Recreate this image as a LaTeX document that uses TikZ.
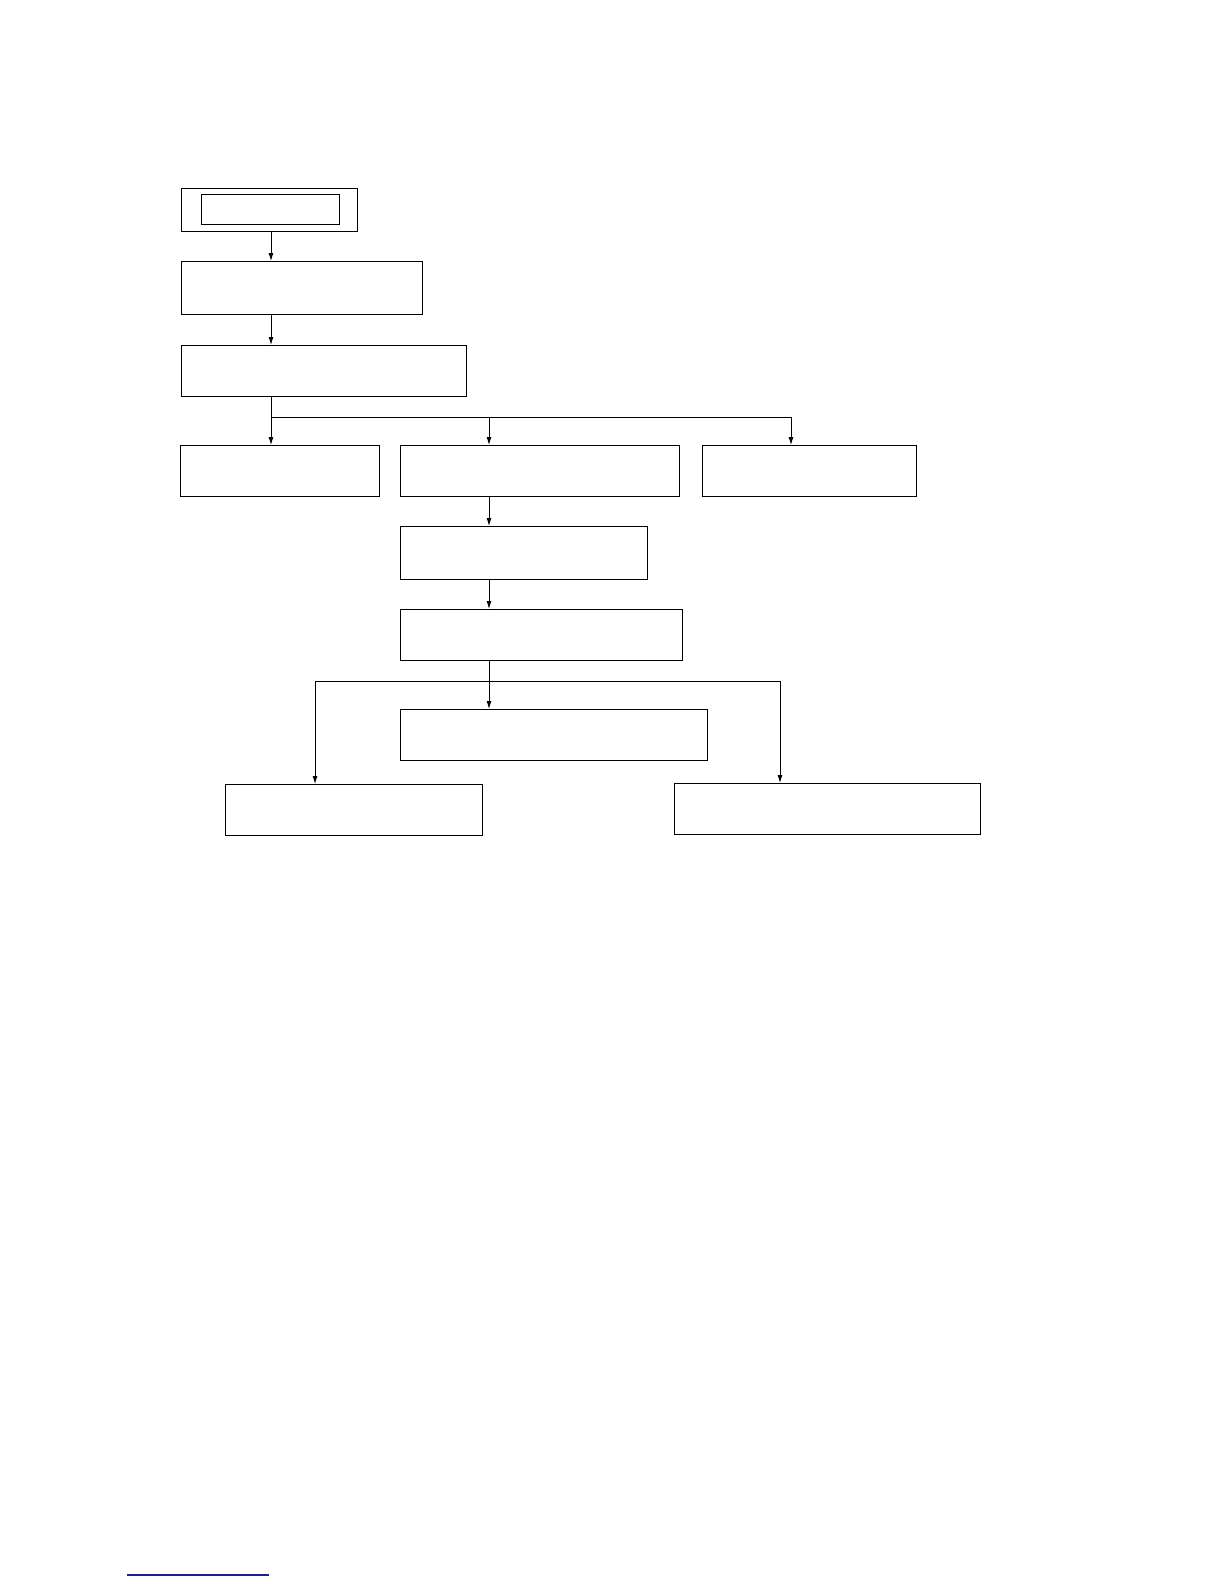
\documentclass[tikz,border=0pt]{standalone}
\usetikzlibrary{arrows.meta}
\definecolor{linkblue}{RGB}{30,30,140}
\begin{document}
\begin{tikzpicture}[x=1pt,y=-1pt,
  box/.style={draw=black,line width=0.9pt,rectangle,inner sep=0pt,outer sep=0pt,anchor=north west},
  conn/.style={line width=0.9pt,draw=black},
  arr/.style={conn,-{Latex[length=8pt,width=5pt]}}]
\useasboundingbox[fill=white] (0,0) rectangle (1224,1584);
% boxes
\node[box,minimum width=176pt,minimum height=43pt] (a) at (181,188) {};
\node[box,minimum width=138pt,minimum height=30pt] (ain) at (201,194) {};
\node[box,minimum width=241pt,minimum height=53pt] (b) at (181,261) {};
\node[box,minimum width=285pt,minimum height=51pt] (c) at (181,345) {};
\node[box,minimum width=199pt,minimum height=51pt] (d1) at (180,445) {};
\node[box,minimum width=279pt,minimum height=51pt] (d2) at (400,445) {};
\node[box,minimum width=214pt,minimum height=51pt] (d3) at (702,445) {};
\node[box,minimum width=247pt,minimum height=53pt] (e) at (400,526) {};
\node[box,minimum width=282pt,minimum height=51pt] (f) at (400,609) {};
\node[box,minimum width=307pt,minimum height=51pt] (g) at (400,709) {};
\node[box,minimum width=257pt,minimum height=51pt] (h1) at (225,784) {};
\node[box,minimum width=306pt,minimum height=51pt] (h2) at (674,783) {};
% guide coordinates
\coordinate (x1) at (271,0);
\coordinate (x2) at (489,0);
\coordinate (br1) at (271,417);
\coordinate (br2) at (489,417);
\coordinate (br3) at (791,417);
\coordinate (bl) at (315,681);
\coordinate (bR) at (780,681);
% connectors
\draw[arr] (a.south -| x1) -- (b.north -| x1);
\draw[arr] (b.south -| x1) -- (c.north -| x1);
\draw[conn] (c.south -| x1) -- (br1) -- (br3);
\draw[arr] (br1) -- (d1.north -| br1);
\draw[arr] (br2) -- (d2.north -| br2);
\draw[arr] (br3) -- (d3.north -| br3);
\draw[arr] (d2.south -| x2) -- (e.north -| x2);
\draw[arr] (e.south -| x2) -- (f.north -| x2);
\draw[arr] (f.south -| x2) -- (g.north -| x2);
\draw[conn] (bl) -- (bR);
\draw[arr] (bl) -- (h1.north -| bl);
\draw[arr] (bR) -- (h2.north -| bR);
% link underline
\coordinate (u1) at (127,1575);
\coordinate (u2) at (269,1575);
\draw[linkblue,line width=1.2pt] (u1) -- (u2);
\end{tikzpicture}
\end{document}
